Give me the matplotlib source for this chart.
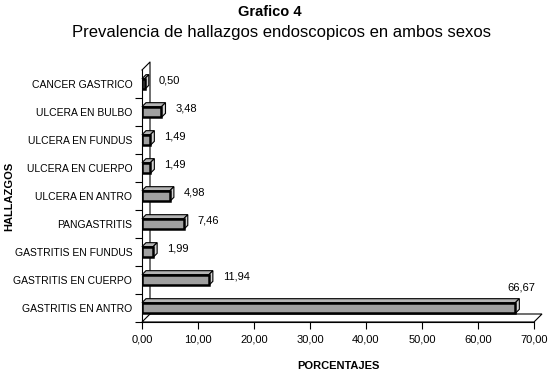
import matplotlib.pyplot as plt
from matplotlib.patches import Polygon

# Datos del grafico
hallazgos = ["GASTRITIS EN ANTRO", "GASTRITIS EN CUERPO", "GASTRITIS EN FUNDUS",
             "PANGASTRITIS", "ULCERA EN ANTRO", "ULCERA EN CUERPO",
             "ULCERA EN FUNDUS", "ULCERA EN BULBO", "CANCER GASTRICO"]
porcentajes = [66.67, 11.94, 1.99, 7.46, 4.98, 1.49, 1.49, 3.48, 0.50]
xticks = [0, 10, 20, 30, 40, 50, 60, 70]

plt.rcParams['font.family'] = ['Liberation Sans', 'DejaVu Sans']

fig = plt.figure(figsize=(5.51, 3.78), dpi=100)
W, H = 551, 378
ax = fig.add_axes([142 / W, 1 - 322 / H, (534 - 142) / W, (322 - 70) / H])
ax.set_xlim(0, 70)
ax.set_ylim(-0.5, len(hallazgos) - 0.5)

# conversion pixeles -> datos para la profundidad 3D
px_x = 70 / (534 - 142)
px_y = len(hallazgos) / (322 - 70)

# pared del fondo y piso
fdx, fdy = 8 * px_x, 8 * px_y
top = len(hallazgos) - 0.5
bot = -0.5
ax.plot([0, fdx, fdx], [top, top + fdy, bot + fdy], color="black", lw=0.8, clip_on=False)
ax.add_patch(Polygon([[0, bot], [70, bot], [70 + fdx, bot + fdy], [fdx, bot + fdy]],
                     closed=True, facecolor="white", edgecolor="black", lw=0.8,
                     clip_on=False, zorder=1))

# barras 3D
h = 0.38
bdx, bdy = 4 * px_x, 4 * px_y
for i, v in enumerate(porcentajes):
    y0, y1 = i - h / 2, i + h / 2
    ax.add_patch(Polygon([[0, y1], [v, y1], [v + bdx, y1 + bdy], [bdx, y1 + bdy]],
                         closed=True, facecolor="#b4b4b4", edgecolor="black", lw=0.8,
                         clip_on=False, zorder=3))
    ax.add_patch(Polygon([[v, y0], [v, y1], [v + bdx, y1 + bdy], [v + bdx, y0 + bdy]],
                         closed=True, facecolor="#d4d4d4", edgecolor="black", lw=0.8,
                         clip_on=False, zorder=3))
ax.barh(range(len(hallazgos)), porcentajes, height=h, color="#a0a0a0",
        edgecolor="black", linewidth=1.8, zorder=4)

# etiquetas de valores
for i, v in enumerate(porcentajes):
    txt = f"{v:.2f}".replace(".", ",")
    if v > 60:
        ax.text(v + 6 * px_x, i + 0.72, txt, ha="center", va="center", fontsize=8)
    else:
        ax.text(v + 10 * px_x + bdx, i + 0.12, txt, ha="left", va="center", fontsize=8)

ax.spines["top"].set_visible(False)
ax.spines["right"].set_visible(False)
ax.spines["left"].set_linewidth(0.8)
ax.spines["bottom"].set_linewidth(0.8)

ax.set_xticks(xticks)
ax.set_xticklabels([f"{t:.2f}".replace(".", ",") for t in xticks], fontsize=8)
ax.set_yticks([i - 0.5 for i in range(len(hallazgos))], minor=False)
ax.set_yticklabels([])
ax.set_yticks(range(len(hallazgos)), minor=True)
ax.set_yticklabels(hallazgos, minor=True, fontsize=7.5)
ax.tick_params(axis="y", which="minor", length=0, pad=7)
ax.tick_params(axis="y", which="major", length=5, width=0.8)
ax.tick_params(axis="x", length=5, width=0.8, pad=4)

ax.set_xlabel("PORCENTAJES", fontsize=8, fontweight="bold", labelpad=12)
fig.text(9 / W, 1 - 196 / H, "HALLAZGOS", rotation=90, ha="center", va="center",
         fontsize=8, fontweight="bold")

fig.text(0.49, 1 - 12 / H, "Grafico 4", ha="center", va="center",
         fontsize=10.5, fontweight="bold")
fig.text(0.51, 1 - 32 / H, "Prevalencia de hallazgos endoscopicos en ambos sexos",
         ha="center", va="center", fontsize=12)

fig.savefig("out.png", dpi=100, facecolor="white")
